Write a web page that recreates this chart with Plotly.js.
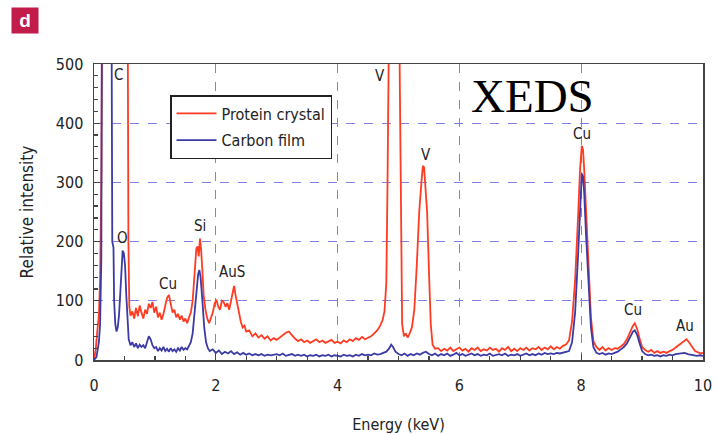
<!DOCTYPE html>
<html>
<head>
<meta charset="utf-8">
<script src="https://cdn.plot.ly/plotly-3.0.1.min.js"></script>
<style>html,body{margin:0;padding:0;background:#fff;}#chart{width:717px;height:434px;}</style>
</head>
<body>
<div id="chart"></div>
<script>
// Protein crystal spectrum (energy keV, relative intensity)
const proteinEnergy = [
  0.00,0.03,0.06,0.08,0.10,0.12,0.14,0.20,0.30,0.40,
  0.50,0.55,0.565,0.58,0.60,0.63,0.66,0.69,0.72,0.75,
  0.78,0.81,0.84,0.87,0.90,0.93,0.96,0.99,1.02,1.05,
  1.08,1.11,1.14,1.17,1.20,1.23,1.26,1.29,1.32,1.35,
  1.38,1.41,1.44,1.47,1.50,1.53,1.56,1.59,1.62,1.65,
  1.68,1.70,1.72,1.74,1.76,1.78,1.80,1.83,1.86,1.89,
  1.92,1.95,1.98,2.01,2.04,2.07,2.10,2.13,2.16,2.19,
  2.22,2.25,2.28,2.30,2.32,2.35,2.38,2.41,2.44,2.47,
  2.50,2.55,2.60,2.65,2.70,2.75,2.80,2.85,2.90,2.95,
  3.00,3.05,3.10,3.15,3.20,3.25,3.30,3.35,3.40,3.45,
  3.50,3.55,3.60,3.65,3.70,3.75,3.80,3.85,3.90,3.95,
  4.00,4.05,4.10,4.15,4.20,4.25,4.30,4.35,4.40,4.45,
  4.50,4.55,4.60,4.65,4.70,4.74,4.77,4.80,4.82,4.84,
  4.90,4.95,5.00,5.02,5.04,5.06,5.09,5.12,5.15,5.18,
  5.22,5.26,5.30,5.34,5.38,5.40,5.42,5.44,5.47,5.50,
  5.53,5.56,5.60,5.65,5.70,5.75,5.80,5.85,5.90,5.95,
  6.00,6.05,6.10,6.15,6.20,6.25,6.30,6.35,6.40,6.45,
  6.50,6.55,6.60,6.65,6.70,6.75,6.80,6.85,6.90,6.95,
  7.00,7.05,7.10,7.15,7.20,7.25,7.30,7.35,7.40,7.45,
  7.50,7.55,7.60,7.65,7.70,7.75,7.80,7.85,7.90,7.95,
  7.98,8.01,8.03,8.05,8.08,8.12,8.16,8.20,8.25,8.30,
  8.35,8.40,8.45,8.50,8.55,8.60,8.65,8.70,8.75,8.80,
  8.85,8.88,8.92,8.96,9.00,9.05,9.10,9.15,9.20,9.25,
  9.30,9.35,9.40,9.45,9.50,9.55,9.60,9.65,9.70,9.73,
  9.77,9.82,9.87,9.92,9.96,10.00];
const proteinIntensity = [
  0,20,55,75,135,300,700,1500,2000,1500,
  900,700,200,90,75,82,70,88,74,92,
  80,70,85,78,95,88,98,80,90,72,
  80,68,78,90,105,110,95,80,85,72,
  78,68,75,65,70,62,72,80,100,140,
  188,192,175,205,185,150,110,85,70,62,
  70,80,95,102,90,85,100,98,90,96,
  85,100,118,125,112,95,78,65,55,58,
  48,50,40,45,38,42,36,40,33,37,
  34,38,42,46,48,42,36,32,35,30,
  33,29,32,35,30,33,29,31,34,29,
  31,28,33,30,35,32,37,34,39,35,
  38,40,45,50,58,68,82,130,300,700,
  1200,1000,700,480,150,60,40,45,38,44,
  55,85,160,250,305,328,325,300,250,150,
  60,26,19,20,15,19,16,21,15,18,
  21,16,19,14,20,17,21,15,18,16,
  21,17,19,14,20,17,22,15,19,15,
  20,17,21,16,20,18,22,17,21,18,
  23,18,22,19,24,26,33,65,135,245,
  320,362,355,320,250,150,72,32,22,17,
  22,16,20,17,20,19,23,27,35,48,
  58,62,52,36,22,17,14,17,12,15,
  12,14,12,15,17,21,25,30,34,35,
  30,22,15,13,11,12];

// Carbon film spectrum
const carbonEnergy = [
  0.00,0.04,0.08,0.10,0.12,0.13,0.15,0.20,0.28,0.29,
  0.30,0.32,0.33,0.35,0.37,0.39,0.41,0.43,0.45,0.47,
  0.49,0.51,0.53,0.55,0.57,0.60,0.63,0.66,0.69,0.72,
  0.75,0.78,0.81,0.84,0.87,0.90,0.93,0.96,0.99,1.02,
  1.05,1.08,1.11,1.14,1.17,1.20,1.23,1.26,1.29,1.32,
  1.35,1.38,1.41,1.44,1.47,1.50,1.53,1.56,1.59,1.62,
  1.65,1.68,1.71,1.73,1.75,1.78,1.81,1.84,1.87,1.90,
  1.95,2.00,2.05,2.10,2.15,2.20,2.25,2.30,2.35,2.40,
  2.45,2.50,2.55,2.60,2.65,2.70,2.75,2.80,2.85,2.90,
  2.95,3.00,3.05,3.10,3.15,3.20,3.25,3.30,3.35,3.40,
  3.45,3.50,3.55,3.60,3.65,3.70,3.75,3.80,3.85,3.90,
  3.95,4.00,4.05,4.10,4.15,4.20,4.25,4.30,4.35,4.40,
  4.45,4.50,4.55,4.60,4.65,4.70,4.75,
  4.80,4.85,4.88,4.91,4.95,5.00,
  5.05,5.10,5.15,5.20,5.25,5.30,5.35,5.40,5.45,5.50,
  5.55,5.60,5.65,5.70,5.75,5.80,5.85,5.90,5.95,6.00,
  6.05,6.10,6.15,6.20,6.25,6.30,6.35,6.40,6.45,6.50,
  6.55,6.60,6.65,6.70,6.75,6.80,6.85,6.90,6.95,7.00,
  7.05,7.10,7.15,7.20,7.25,7.30,7.35,7.40,7.45,7.50,
  7.55,7.60,7.65,7.70,7.75,7.80,
  7.85,7.90,7.95,7.98,8.01,8.03,8.05,8.08,8.12,8.16,8.20,8.25,
  8.30,8.35,8.40,8.45,8.50,8.55,8.60,8.65,8.70,
  8.75,8.80,8.85,8.88,8.92,8.96,9.00,
  9.05,9.10,9.15,9.20,9.25,9.30,9.35,9.40,9.45,9.50,
  9.55,9.60,9.65,9.70,9.75,9.80,9.85,9.90,9.95,10.00];
const carbonIntensity = [
  0,5,30,60,170,500,1500,2500,1000,520,
  200,190,100,60,48,55,75,110,160,185,
  180,160,110,60,35,25,30,22,28,20,
  26,22,25,20,30,40,35,25,20,22,
  15,20,16,22,15,19,14,20,15,18,
  14,20,16,22,17,20,18,24,30,45,
  75,115,145,152,140,100,55,30,20,15,
  18,12,16,10,14,11,15,10,13,9,
  12,9,11,8,10,8,10,7,9,8,
  9,10,8,11,7,8,10,7,9,7,
  9,6,8,7,9,6,8,7,9,6,
  8,7,6,9,7,8,6,9,7,10,
  8,9,8,11,9,10,12,
  14,20,26,22,14,10,
  8,11,7,10,8,11,9,12,14,10,
  8,11,7,10,8,11,7,9,12,8,
  10,7,9,11,8,10,7,9,8,11,
  7,9,10,8,11,7,9,8,10,7,
  9,11,8,10,8,11,9,12,10,11,
  10,12,11,12,13,15,
  30,80,180,260,315,310,280,210,120,55,22,12,
  10,12,9,11,10,12,14,18,22,
  28,38,48,50,42,28,15,
  10,8,9,7,8,6,8,7,9,8,
  10,11,12,12,10,9,8,7,8,7];

const peakLabels = ["C","O","Cu","Si","AuS","V","V","Cu","Cu","Au"];
const peakLabelEnergy = [0.41,0.46,1.22,1.74,2.27,4.70,5.45,8.01,8.85,9.70];
const peakLabelIntensity = [481,206,128,226,149,480,346,382,84,57];

const narrow = "Liberation Sans Narrow, DejaVu Sans Condensed, Roboto, sans-serif";

const traces = [
  {x: proteinEnergy, y: proteinIntensity, type: "scatter", mode: "lines", name: "Protein crystal",
   legendgroup: "a", line: {color: "#ff3b22", width: 1.8}},
  {x: carbonEnergy, y: carbonIntensity, type: "scatter", mode: "lines", name: "Carbon film",
   legendgroup: "b", line: {color: "#3b3aa6", width: 1.8}}
];

const annotations = peakLabels.map((t, i) => ({
  x: peakLabelEnergy[i], y: peakLabelIntensity[i], xref: "x", yref: "y", text: t,
  xanchor: "center", yanchor: "middle",
  showarrow: false, font: {family: narrow, size: 15, color: "#222"}
}));
annotations.push({
  xref: "paper", yref: "paper", x: (532 - 94) / 609, y: (360 - 96) / 296, text: "XEDS",
  xanchor: "center", yanchor: "middle", showarrow: false,
  font: {family: "Liberation Serif, Times New Roman, serif", size: 47, color: "#000"}
});
annotations.push({
  xref: "paper", yref: "paper", x: (25 - 94) / 609, y: (360 - 20.5) / 296, text: "<b>d</b>",
  xanchor: "center", yanchor: "middle",
  showarrow: false, bgcolor: "#c21c4b", width: 24, height: 23, borderpad: 1,
  font: {family: "Liberation Sans, Arial, sans-serif", size: 19, color: "#fff"}
});

const axisCommon = {
  showline: true, linecolor: "#444", linewidth: 1.5, mirror: true,
  ticks: "inside", ticklen: 6, tickcolor: "#444", tickwidth: 1.2,
  showgrid: true, gridcolor: "#8080e0", griddash: "dash", gridwidth: 1,
  zeroline: false, tickfont: {family: narrow, size: 16, color: "#222"}
};

const layout = {
  width: 717, height: 434,
  margin: {l: 94, r: 14, t: 64, b: 74},
  paper_bgcolor: "#fff", plot_bgcolor: "#fff",
  showlegend: true,
  legend: {x: (170 - 94) / 609, y: (360 - 95) / 296, xanchor: "left", yanchor: "top",
           bgcolor: "#fff", bordercolor: "#222", borderwidth: 1.5,
           itemwidth: 40, entrywidth: 168, tracegroupgap: 3,
           font: {family: narrow, size: 16, color: "#222"}},
  xaxis: Object.assign({}, axisCommon, {
    range: [0, 10], dtick: 2, tick0: 0, ticklabelstandoff: 10,
    minor: {dtick: 0.5, ticks: "inside", ticklen: 4, tickcolor: "#444", showgrid: false},
    title: {text: "Energy (keV)", font: {family: narrow, size: 16, color: "#222"}, standoff: 28}
  }),
  yaxis: Object.assign({}, axisCommon, {
    range: [0, 500], dtick: 100, tick0: 0, ticklabelstandoff: 6,
    minor: {dtick: 20, ticks: "inside", ticklen: 4, tickcolor: "#444", showgrid: false},
    title: {text: "Relative intensity", font: {family: narrow, size: 17, color: "#222"}, standoff: 18}
  }),
  annotations: annotations
};

Plotly.newPlot("chart", traces, layout, {displayModeBar: false, staticPlot: true});
</script>
</body>
</html>
